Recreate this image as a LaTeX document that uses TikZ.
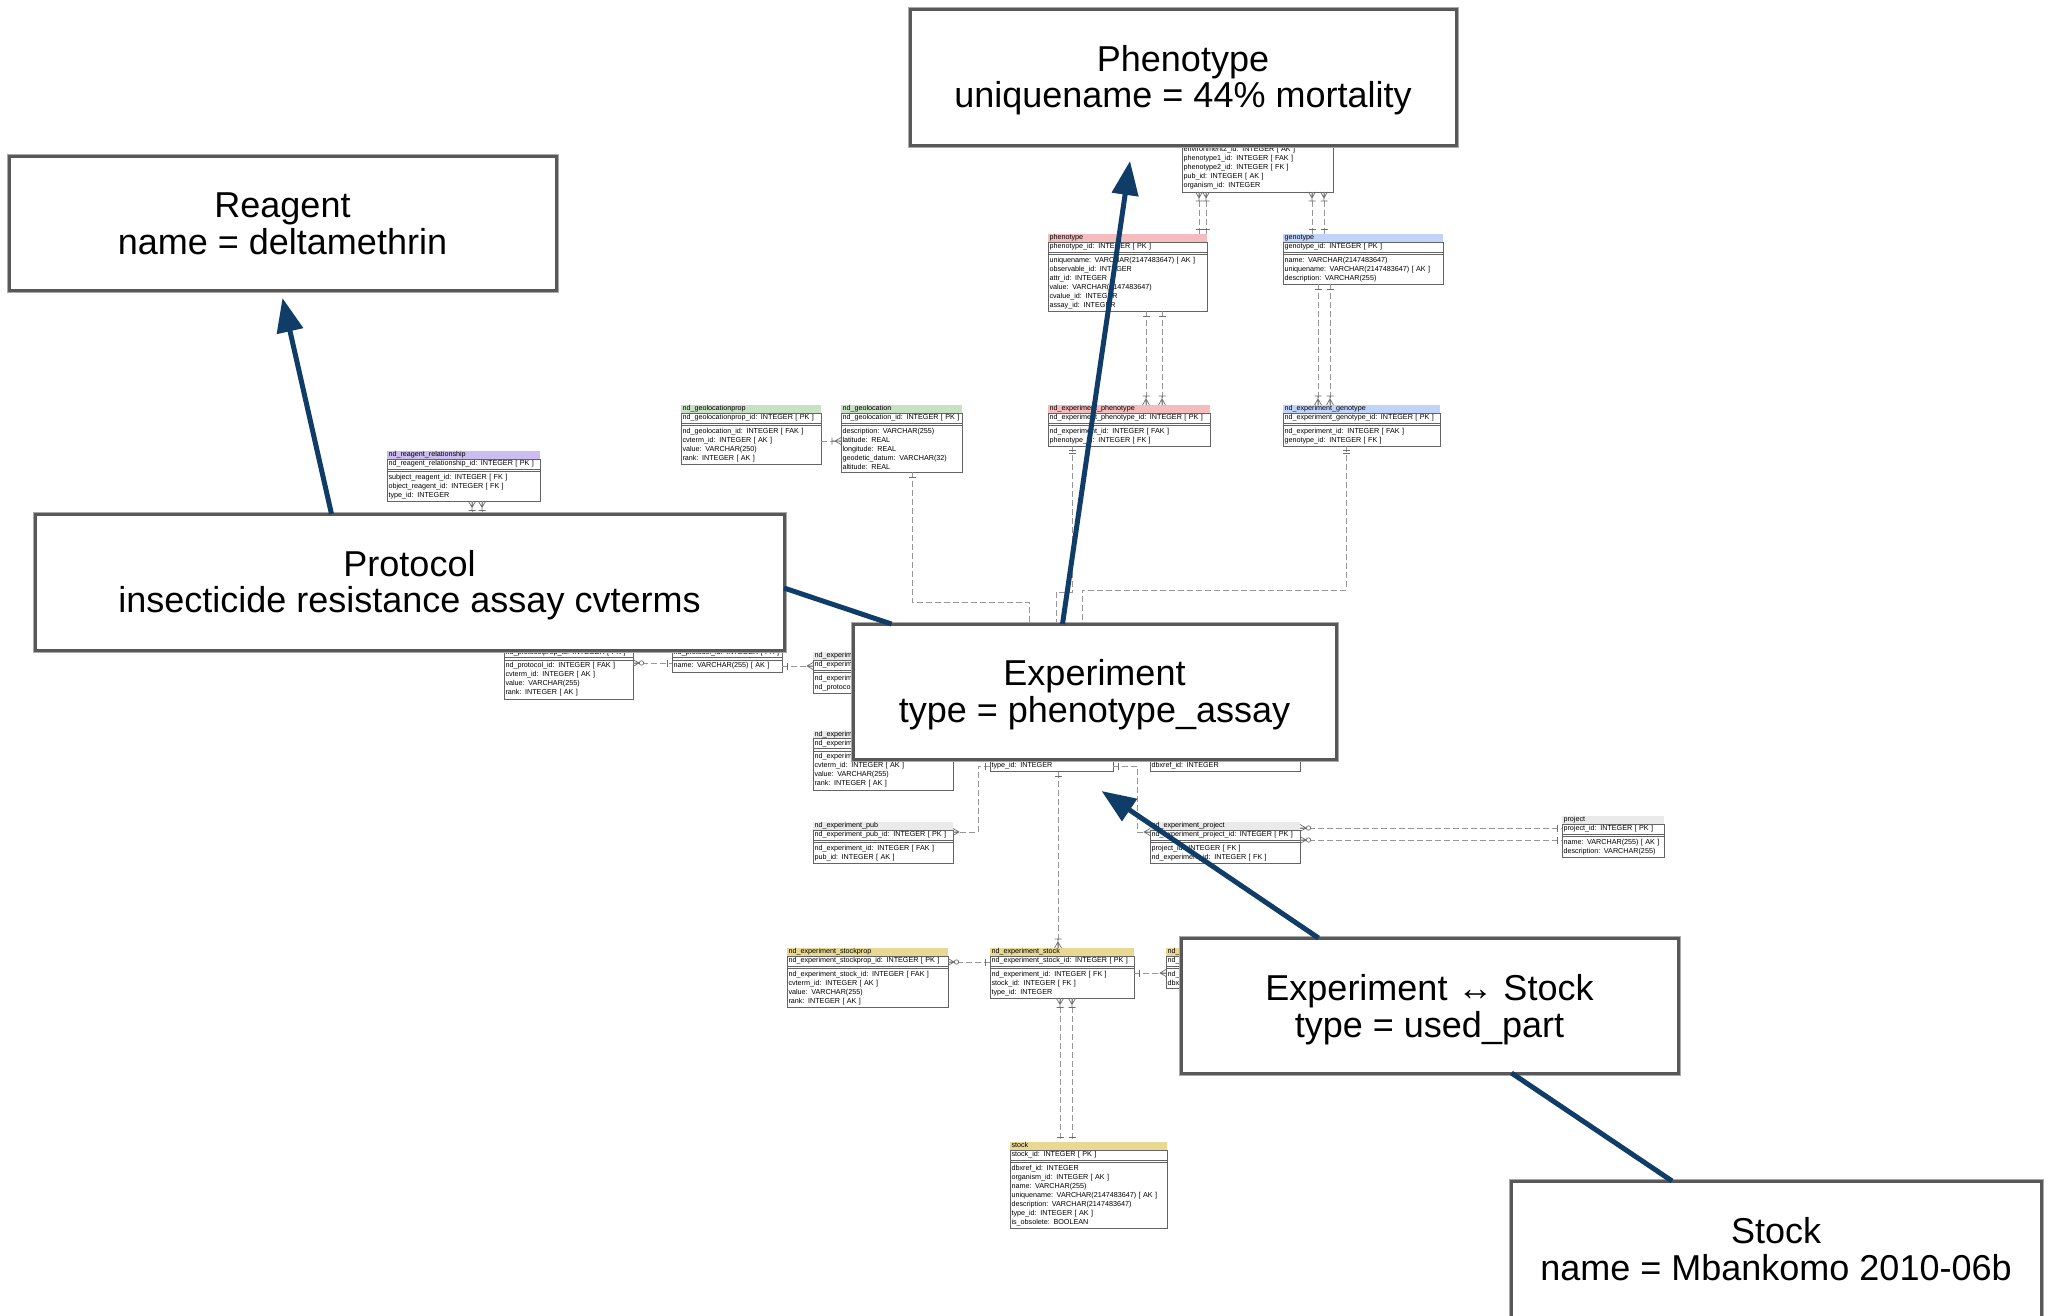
\documentclass[tikz,border=0pt]{standalone}
\usepackage{fontspec}
\setmainfont{Liberation Sans}
\usetikzlibrary{arrows.meta}

\definecolor{pinkhead}{RGB}{244,188,188}
\definecolor{bluehead}{RGB}{192,212,250}
\definecolor{greenhead}{RGB}{200,224,196}
\definecolor{purplehead}{RGB}{204,188,240}
\definecolor{yellowhead}{RGB}{232,216,148}
\definecolor{grayhead}{RGB}{234,234,234}
\definecolor{navy}{RGB}{16,60,104}
\definecolor{boxedge}{RGB}{88,88,88}
\definecolor{boxhalo}{RGB}{170,170,170}
\definecolor{tabedge}{RGB}{100,100,100}
\definecolor{dashgray}{RGB}{150,150,150}
\definecolor{markgray}{RGB}{110,110,110}

\newcommand{\tabfont}{\fontsize{7.2}{9}\selectfont}
\newcommand{\bigfont}{\fontsize{36}{36.5}\selectfont}

% table: id, x, y (top), text width, header colour, title, key row, columns
\newcommand{\ertab}[8]{%
  \node[ertitle, fill=#5, text width=#4pt, anchor=north west] (#1) at (#2,#3) {#6};
  \node[erkey, text width=#4pt, anchor=north west] (#1k) at (#1.south west) {#7};
  \node[ercols, text width=#4pt, anchor=north west] (#1c) at ([yshift=-2.5pt]#1k.south west) {#8};
  \draw[erframe] (#1k.north west) rectangle (#1c.south east);
}
% vertical relation: x, upper anchor, lower anchor, upper mark, lower mark
\newcommand{\erv}[5]{%
  \draw[erdash] (#1,0|-#2) -- (#1,0|-#3);
  \path (#1,0|-#2) pic[rotate=-90]{#4} (#1,0|-#3) pic[rotate=90]{#5};
}
% horizontal relation: y, left anchor, right anchor, left mark, right mark
\newcommand{\erh}[5]{%
  \draw[erdash] (#2|-0,#1) -- (#3|-0,#1);
  \path (#2|-0,#1) pic{#4} (#3|-0,#1) pic[rotate=180]{#5};
}
% annotation box: id, x, y, width, height, text drop, text
\newcommand{\notebox}[7]{%
  \node[bigbox, minimum width=#4pt, minimum height=#5pt] (#1) at (#2,#3) {};
  \node[bigtext] (#1t) at ([yshift=-#6pt]#1.center) {#7};
}

\begin{document}
\begin{tikzpicture}[x=1pt, y=-1pt,
  ertitle/.style={font=\tabfont, text height=5.5pt, text depth=2.5pt, inner ysep=0pt, inner xsep=1.5pt, outer sep=0pt, align=left},
  erkey/.style={font=\tabfont, draw=tabedge, line width=0.6pt, text height=5.5pt, text depth=2pt, inner ysep=1.25pt, inner xsep=1.5pt, outer sep=0pt, align=left},
  ercols/.style={font=\tabfont, draw=tabedge, line width=0.6pt, inner ysep=2.6pt, inner xsep=1.5pt, outer sep=0pt, align=left},
  erframe/.style={draw=tabedge, line width=0.6pt},
  erdash/.style={draw=dashgray, line width=0.8pt, dash pattern=on 6pt off 3pt},
  ermark/.style={draw=markgray, line width=0.7pt},
  ernone/.pic={},
  erbar/.pic={\draw[ermark] (5,-3.5) -- (5,3.5);},
  erbarbar/.pic={\draw[ermark] (4,-3.5) -- (4,3.5) (7,-3.5) -- (7,3.5);},
  ercrow/.pic={\draw[ermark] (0,-3.5) -- (6,0) -- (0,3.5) (0,0) -- (6,0);},
  ercrowbar/.pic={\draw[ermark] (0,-3.5) -- (6,0) -- (0,3.5) (0,0) -- (9,0) (9,-3.5) -- (9,3.5);},
  ercrowo/.pic={\draw[ermark] (0,-3.5) -- (6,0) -- (0,3.5) (0,0) -- (6,0); \draw[ermark, fill=white] (8.5,0) circle[radius=2.2];},
  bigbox/.style={draw=boxedge, line width=3pt, preaction={draw=boxhalo, line width=5pt}, fill=white, outer sep=0pt, inner sep=0pt, anchor=north west},
  bigtext/.style={align=center, font=\bigfont, inner sep=0pt},
  bluearrow/.style={draw=navy, line width=5pt, -{Triangle[length=34pt,width=26pt]}},
  blueline/.style={draw=navy, line width=5pt}]

\useasboundingbox (0,0) rectangle (2051,1315);
\fill[white] (0,0) rectangle (2051,1315);

% ---------- schema tables ----------
\ertab{phcmp}{1182}{123.5}{148}{grayhead}{}{}{environment2\_id: INTEGER [ AK ]\\phenotype1\_id: INTEGER [ FAK ]\\phenotype2\_id: INTEGER [ FK ]\\pub\_id: INTEGER [ AK ]\\organism\_id: INTEGER}
\ertab{phen}{1048}{234}{156}{pinkhead}{phenotype}{phenotype\_id: INTEGER [ PK ]}{uniquename: VARCHAR(2147483647) [ AK ]\\observable\_id: INTEGER\\attr\_id: INTEGER\\value: VARCHAR(2147483647)\\cvalue\_id: INTEGER\\assay\_id: INTEGER}
\ertab{geno}{1283}{234}{157}{bluehead}{genotype}{genotype\_id: INTEGER [ PK ]}{name: VARCHAR(2147483647)\\uniquename: VARCHAR(2147483647) [ AK ]\\description: VARCHAR(255)}
\ertab{nep}{1048}{405}{159}{pinkhead}{nd\_experiment\_phenotype}{nd\_experiment\_phenotype\_id: INTEGER [ PK ]}{nd\_experiment\_id: INTEGER [ FAK ]\\phenotype\_id: INTEGER [ FK ]}
\ertab{neg}{1283}{405}{154}{bluehead}{nd\_experiment\_genotype}{nd\_experiment\_genotype\_id: INTEGER [ PK ]}{nd\_experiment\_id: INTEGER [ FAK ]\\genotype\_id: INTEGER [ FK ]}
\ertab{gp}{681}{405}{137}{greenhead}{nd\_geolocationprop}{nd\_geolocationprop\_id: INTEGER [ PK ]}{nd\_geolocation\_id: INTEGER [ FAK ]\\cvterm\_id: INTEGER [ AK ]\\value: VARCHAR(250)\\rank: INTEGER [ AK ]}
\ertab{geo}{841}{405}{118}{greenhead}{nd\_geolocation}{nd\_geolocation\_id: INTEGER [ PK ]}{description: VARCHAR(255)\\latitude: REAL\\longitude: REAL\\geodetic\_datum: VARCHAR(32)\\altitude: REAL}
\ertab{nrr}{387}{451}{150}{purplehead}{nd\_reagent\_relationship}{nd\_reagent\_relationship\_id: INTEGER [ PK ]}{subject\_reagent\_id: INTEGER [ FK ]\\object\_reagent\_id: INTEGER [ FK ]\\type\_id: INTEGER}
\ertab{pp}{504}{639.5}{126}{grayhead}{nd\_protocolprop}{nd\_protocolprop\_id: INTEGER [ PK ]}{nd\_protocol\_id: INTEGER [ FAK ]\\cvterm\_id: INTEGER [ AK ]\\value: VARCHAR(255)\\rank: INTEGER [ AK ]}
\ertab{prot}{672}{639.5}{107}{grayhead}{nd\_protocol}{nd\_protocol\_id: INTEGER [ PK ]}{name: VARCHAR(255) [ AK ]}
\ertab{nepro}{813}{652}{150}{grayhead}{nd\_experiment\_protocol}{nd\_experiment\_protocol\_id: INTEGER [ PK ]}{nd\_experiment\_id: INTEGER [ FAK ]\\nd\_protocol\_id: INTEGER [ FK ]}
\ertab{nexpp}{813}{730.5}{137}{grayhead}{nd\_experimentprop}{nd\_experimentprop\_id: INTEGER [ PK ]}{nd\_experiment\_id: INTEGER [ FAK ]\\cvterm\_id: INTEGER [ AK ]\\value: VARCHAR(255)\\rank: INTEGER [ AK ]}
\ertab{nexp}{990}{730.5}{120}{grayhead}{}{}{\vphantom{I}\\type\_id: INTEGER}
\ertab{nedx}{1150}{730.5}{147}{grayhead}{}{}{\vphantom{I}\\dbxref\_id: INTEGER}
\ertab{nepub}{813}{822}{137}{grayhead}{nd\_experiment\_pub}{nd\_experiment\_pub\_id: INTEGER [ PK ]}{nd\_experiment\_id: INTEGER [ FAK ]\\pub\_id: INTEGER [ AK ]}
\ertab{nepr}{1150}{822}{147}{grayhead}{nd\_experiment\_project}{nd\_experiment\_project\_id: INTEGER [ PK ]}{project\_id: INTEGER [ FK ]\\nd\_experiment\_id: INTEGER [ FK ]}
\ertab{proj}{1562}{816}{99}{grayhead}{project}{project\_id: INTEGER [ PK ]}{name: VARCHAR(255) [ AK ]\\description: VARCHAR(255)}
\ertab{nesp}{787}{948}{158}{yellowhead}{nd\_experiment\_stockprop}{nd\_experiment\_stockprop\_id: INTEGER [ PK ]}{nd\_experiment\_stock\_id: INTEGER [ FAK ]\\cvterm\_id: INTEGER [ AK ]\\value: VARCHAR(255)\\rank: INTEGER [ AK ]}
\ertab{nes}{990}{948}{141}{yellowhead}{nd\_experiment\_stock}{nd\_experiment\_stock\_id: INTEGER [ PK ]}{nd\_experiment\_id: INTEGER [ FK ]\\stock\_id: INTEGER [ FK ]\\type\_id: INTEGER}
\ertab{nesdx}{1166}{948}{100}{yellowhead}{nd\_exp}{nd\_exp}{nd\_exp\\dbxref}
\ertab{stk}{1010}{1142}{154}{yellowhead}{stock}{stock\_id: INTEGER [ PK ]}{dbxref\_id: INTEGER\\organism\_id: INTEGER [ AK ]\\name: VARCHAR(255)\\uniquename: VARCHAR(2147483647) [ AK ]\\description: VARCHAR(2147483647)\\type\_id: INTEGER [ AK ]\\is\_obsolete: BOOLEAN}

% ---------- schema relations ----------
\erv{1199}{phcmpc.south}{phen.north}{ercrowbar}{erbar}
\erv{1206}{phcmpc.south}{phen.north}{ercrowbar}{erbar}
\erv{1312}{phcmpc.south}{geno.north}{ercrowbar}{erbar}
\erv{1324}{phcmpc.south}{geno.north}{ercrowbar}{erbar}
\erv{1146}{phenc.south}{nep.north}{erbar}{ercrowbar}
\erv{1162}{phenc.south}{nep.north}{erbar}{ercrowbar}
\erv{1318}{genoc.south}{neg.north}{erbar}{ercrowbar}
\erv{1330}{genoc.south}{neg.north}{erbar}{ercrowbar}
\erv{1058}{nexpc.south}{nes.north}{erbar}{ercrowbar}
\erv{1060}{nesc.south}{stk.north}{ercrowbar}{erbar}
\erv{1072}{nesc.south}{stk.north}{ercrowbar}{erbar}

\coordinate (rrend1) at (472,560);
\coordinate (rrend2) at (482,560);
\draw[erdash] (472,0|-nrrc.south) -- (rrend1);
\draw[erdash] (482,0|-nrrc.south) -- (rrend2);
\path (472,0|-nrrc.south) pic[rotate=-90]{ercrowbar} (482,0|-nrrc.south) pic[rotate=-90]{ercrowbar};

\draw[erdash] (1072,0|-nepc.south) |- (1056,592) -- (1056,0|-nexp.north);
\draw[erdash] (1346,0|-negc.south) |- (1082,590) -- (1082,0|-nexp.north);
\draw[erdash] (912,0|-geoc.south) |- (1029,602) -- (1029,0|-nexp.north);
\path (1072,0|-nepc.south) pic[rotate=-90]{erbarbar}
      (1346,0|-negc.south) pic[rotate=-90]{erbarbar}
      (912,0|-geoc.south) pic[rotate=-90]{erbar};

\draw[erdash] (nexpc.west|-0,766) -| (978,832) -- (nepubk.east|-0,832);
\path (nexpc.west|-0,766) pic[rotate=180]{erbar} (nepubk.east|-0,832) pic{ercrow};
\draw[erdash] (nexpc.east|-0,766) -| (1137,832) -- (neprk.west|-0,832);
\path (nexpc.east|-0,766) pic{erbar} (neprk.west|-0,832) pic[rotate=180]{ercrow};

\erh{828}{neprk.east}{projk.west}{ercrowo}{erbar}
\erh{840}{neprk.east}{projc.west}{ercrowo}{erbar}
\erh{663}{ppc.east}{protc.west}{ercrowo}{erbar}
\erh{666}{protc.east}{neprok.west}{erbar}{ercrow}
\erh{441}{gpc.east}{geoc.west}{ernone}{ercrowbar}
\erh{962}{nespk.east}{nesk.west}{ercrowo}{erbar}
\erh{973}{nesc.east}{nesdxc.west}{erbar}{ercrow}

% ---------- annotation boxes ----------
\notebox{phenobox}{910}{9}{546}{136}{3}{Phenotype\\uniquename = 44\% mortality}
\notebox{reagentbox}{9}{156}{547}{134}{1}{Reagent\\name = deltamethrin}
\notebox{protocolbox}{35}{514}{749}{136}{3}{Protocol\\insecticide resistance assay cvterms}
\notebox{experimentbox}{853}{624}{483}{135}{3}{Experiment\\type = phenotype\_assay}
\notebox{linkbox}{1181}{938}{497}{135}{4}{Experiment ↔ Stock\\type = used\_part}
\notebox{stockbox}{1511}{1181}{530}{136}{0}{Stock\\name = Mbankomo 2010-06b}

% ---------- annotation links ----------
\draw[bluearrow] ([xshift=-78pt]protocolbox.north) -- ([yshift=-8pt]reagentbox.south);
\draw[bluearrow] ([xshift=-32pt]experimentbox.north) -- ([xshift=-53pt,yshift=-16pt]phenobox.south);
\draw[bluearrow] ([xshift=-111pt]linkbox.north) -- ([xshift=7pt,yshift=-32pt]experimentbox.south);
\draw[blueline] ([xshift=82pt]linkbox.south) -- ([xshift=-104pt]stockbox.north);
\draw[blueline] ([yshift=-6pt]protocolbox.east) -- ([xshift=-203pt]experimentbox.north);

\end{tikzpicture}
\end{document}
